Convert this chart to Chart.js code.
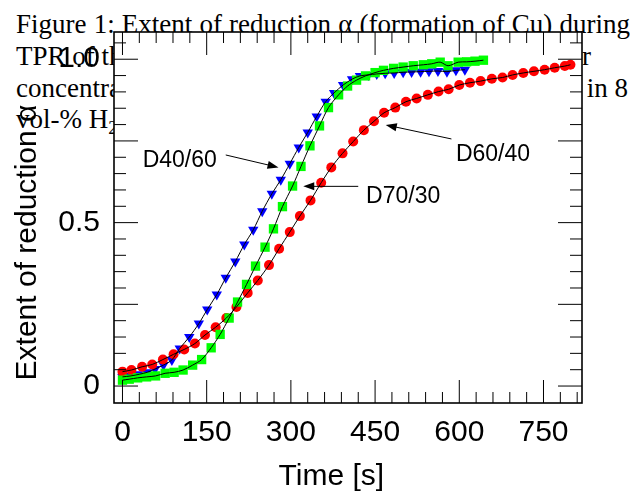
<!DOCTYPE html>
<html>
<head>
<meta charset="utf-8">
<script src="https://cdn.jsdelivr.net/npm/chart.js@4.4.1/dist/chart.umd.min.js"></script>
<style>
html, body { margin: 0; padding: 0; background: #fff; overflow: hidden; }
#wrap { position: relative; width: 630px; height: 492px; }
.cap { position: absolute; font-family: 'Liberation Serif', 'Times New Roman', serif; font-size: 27px; line-height: 32px; white-space: nowrap; color: #000; }
.just { text-align: justify; text-align-last: justify; }
#c { position: absolute; left: 0; top: 0; }
</style>
</head>
<body>
<div id="wrap">
  <div class="cap just" style="left:16px;top:8px;width:614px">Figure 1: Extent of reduction α (formation of Cu) during</div>
  <div class="cap" style="left:16px;top:40px">TPR of the precursors with</div>
  <div class="cap" style="right:39px;top:40px">different molar</div>
  <div class="cap" style="left:16px;top:72px">concentration of Cu and Zn,</div>
  <div class="cap" style="right:2px;top:72px">reduced in 8</div>
  <div class="cap" style="left:16px;top:103px">vol-% H<sub style="font-size:18px">2</sub></div>
  <canvas id="c" width="630" height="492"></canvas>
</div>
<script>
// D40/60 - blue triangles
const timeD4060  = [0, 15, 30, 44, 58, 73, 88, 102, 119, 136, 151, 168, 184, 201, 217, 233, 249, 266, 282, 298, 314, 330, 346, 362, 377, 393, 409, 423, 438, 453, 468, 484, 500, 515, 531, 546, 562, 578, 594, 610];
const alphaD4060 = [0.028, 0.031, 0.036, 0.042, 0.052, 0.064, 0.080, 0.115, 0.150, 0.191, 0.234, 0.280, 0.331, 0.381, 0.433, 0.478, 0.535, 0.588, 0.631, 0.680, 0.730, 0.776, 0.825, 0.870, 0.897, 0.921, 0.939, 0.949, 0.952, 0.955, 0.957, 0.958, 0.960, 0.961, 0.962, 0.963, 0.964, 0.962, 0.966, 0.968];

// D70/30 - green squares
const timeD7030  = [0, 12, 27, 43, 59, 76, 92, 108, 125, 141, 158, 174, 190, 205, 221, 237, 254, 269, 285, 303, 318, 334, 351, 367, 385, 401, 417, 433, 450, 465, 483, 500, 518, 536, 551, 566, 580, 598, 613, 628, 643];
const alphaD7030 = [0.018, 0.021, 0.025, 0.028, 0.031, 0.039, 0.042, 0.049, 0.064, 0.081, 0.117, 0.158, 0.208, 0.257, 0.311, 0.367, 0.425, 0.481, 0.549, 0.612, 0.672, 0.735, 0.796, 0.852, 0.891, 0.918, 0.936, 0.949, 0.959, 0.966, 0.972, 0.976, 0.980, 0.983, 0.986, 0.991, 0.980, 0.991, 0.992, 0.994, 0.997];

// D60/40 - red circles
const timeD6040  = [0, 16, 35, 53, 72, 91, 110, 129, 147, 166, 185, 203, 223, 241, 261, 279, 298, 316, 335, 354, 372, 392, 411, 430, 448, 466, 486, 505, 524, 544, 563, 581, 600, 619, 638, 658, 677, 695, 714, 733, 752, 770, 788, 798];
const alphaD6040 = [0.044, 0.049, 0.059, 0.066, 0.081, 0.097, 0.112, 0.130, 0.156, 0.180, 0.208, 0.242, 0.285, 0.323, 0.370, 0.420, 0.471, 0.520, 0.568, 0.622, 0.669, 0.712, 0.748, 0.783, 0.810, 0.836, 0.852, 0.870, 0.880, 0.891, 0.901, 0.908, 0.921, 0.928, 0.933, 0.940, 0.944, 0.952, 0.958, 0.963, 0.968, 0.974, 0.979, 0.983];

const xTickValues = [0, 150, 300, 450, 600, 750];
const yTickValues = [0, 0.5, 1];

// labels with arrows, in data coordinates
const notes = [
  { text: 'D40/60', at: [102, 0.691], from: [184, 0.707], to: [278, 0.669] },
  { text: 'D70/30', at: [500, 0.578], from: [420, 0.611], to: [322, 0.611] },
  { text: 'D60/40', at: [660, 0.708], from: [586, 0.756], to: [469, 0.799] }
];

const FONT = "'Liberation Sans', Arial, sans-serif";

function pts(xs, ys) {
  return xs.map((x, i) => ({ x: x, y: ys[i] }));
}

const whiteArea = {
  id: 'whiteArea',
  beforeDatasetsDraw(chart) {
    const a = chart.chartArea;
    const ctx = chart.ctx;
    ctx.save();
    ctx.fillStyle = '#fff';
    ctx.fillRect(a.left, a.top, a.right - a.left, a.bottom - a.top);
    ctx.restore();
  }
};

const frameTicks = {
  id: 'frameTicks',
  afterDraw(chart) {
    const { ctx, chartArea: { left, right, top, bottom }, scales: { x, y } } = chart;
    ctx.save();
    ctx.strokeStyle = '#000';
    ctx.lineWidth = 1;
    ctx.beginPath();
    for (let v = 0; v <= 810; v += 30) {
      const px = x.getPixelForValue(v);
      const len = v % 150 === 0 ? 23 : 11;
      ctx.moveTo(px, bottom); ctx.lineTo(px, bottom - len);
      ctx.moveTo(px, top); ctx.lineTo(px, top + len);
    }
    for (let k = 0; k <= 21; k++) {
      const py = y.getPixelForValue(k * 0.05);
      const len = k % 5 === 0 ? 24 : 12;
      ctx.moveTo(left, py); ctx.lineTo(left + len, py);
      ctx.moveTo(right, py); ctx.lineTo(right - len, py);
    }
    ctx.stroke();
    ctx.lineWidth = 1.6;
    ctx.strokeRect(left, top, right - left, bottom - top);

    // annotations
    ctx.fillStyle = '#000';
    ctx.font = '23px ' + FONT;
    ctx.textAlign = 'center';
    ctx.textBaseline = 'middle';
    ctx.lineWidth = 1;
    notes.forEach(n => {
      ctx.fillText(n.text, x.getPixelForValue(n.at[0]), y.getPixelForValue(n.at[1]));
      const x1 = x.getPixelForValue(n.from[0]), y1 = y.getPixelForValue(n.from[1]);
      const x2 = x.getPixelForValue(n.to[0]), y2 = y.getPixelForValue(n.to[1]);
      const ang = Math.atan2(y2 - y1, x2 - x1);
      ctx.beginPath();
      ctx.moveTo(x1, y1);
      ctx.lineTo(x2 - 8 * Math.cos(ang), y2 - 8 * Math.sin(ang));
      ctx.stroke();
      ctx.beginPath();
      ctx.moveTo(x2, y2);
      ctx.lineTo(x2 - 11 * Math.cos(ang) + 4 * Math.sin(ang), y2 - 11 * Math.sin(ang) - 4 * Math.cos(ang));
      ctx.lineTo(x2 - 11 * Math.cos(ang) - 4 * Math.sin(ang), y2 - 11 * Math.sin(ang) + 4 * Math.cos(ang));
      ctx.closePath();
      ctx.fill();
    });
    ctx.restore();
  }
};

function fitLine(xs, ys) {
  return {
    type: 'line',
    data: pts(xs, ys),
    borderColor: '#000',
    borderWidth: 1,
    pointRadius: 0,
    tension: 0.3,
    fill: false,
    order: 0
  };
}

new Chart(document.getElementById('c'), {
  type: 'scatter',
  data: {
    datasets: [
      fitLine(timeD4060, alphaD4060),
      fitLine(timeD7030, alphaD7030),
      fitLine(timeD6040, alphaD6040),
      {
        label: 'D70/30',
        data: pts(timeD7030, alphaD7030),
        pointStyle: 'rect',
        pointRadius: 6.6,
        backgroundColor: '#00ff00',
        borderWidth: 0,
        order: 1
      },
      {
        label: 'D60/40',
        data: pts(timeD6040, alphaD6040),
        pointStyle: 'circle',
        pointRadius: 5,
        backgroundColor: '#ff0000',
        borderWidth: 0,
        order: 2
      },
      {
        label: 'D40/60',
        data: pts(timeD4060, alphaD4060),
        pointStyle: 'triangle',
        rotation: 180,
        pointRadius: 6,
        backgroundColor: '#0000ff',
        borderWidth: 0,
        order: 3
      }
    ]
  },
  options: {
    responsive: false,
    animation: false,
    devicePixelRatio: 1,
    layout: { padding: { left: 0, top: 31, right: 48, bottom: 0 } },
    plugins: { legend: { display: false }, tooltip: { enabled: false } },
    scales: {
      x: {
        type: 'linear',
        min: -15.1,
        max: 818.6,
        afterBuildTicks: s => { s.ticks = xTickValues.map(v => ({ value: v })); },
        afterFit: s => { s.height = 89; },
        grid: { display: false, drawTicks: false },
        border: { display: false },
        ticks: { color: '#000', font: { family: FONT, size: 30 }, padding: 12, maxRotation: 0 },
        title: { display: true, text: 'Time [s]\u00a0\u00a0\u00a0\u00a0', color: '#000', font: { family: FONT, size: 30, lineHeight: 1 }, padding: { top: 0, bottom: 0 } }
      },
      y: {
        type: 'linear',
        min: -0.0519,
        max: 1.0833,
        afterBuildTicks: s => { s.ticks = yTickValues.map(v => ({ value: v })); },
        afterFit: s => { s.width = 114; },
        grid: { display: false, drawTicks: false },
        border: { display: false },
        ticks: { color: '#000', font: { family: FONT, size: 30 }, padding: 14, callback: v => v === 0 ? '0' : v.toFixed(1) },
        title: { display: true, text: 'Extent of reduction α\u00a0\u00a0\u00a0\u00a0\u00a0\u00a0', color: '#000', font: { family: FONT, size: 30, lineHeight: 1 }, padding: { top: 13, bottom: 0 } }
      }
    }
  },
  plugins: [whiteArea, frameTicks]
});
</script>
</body>
</html>
